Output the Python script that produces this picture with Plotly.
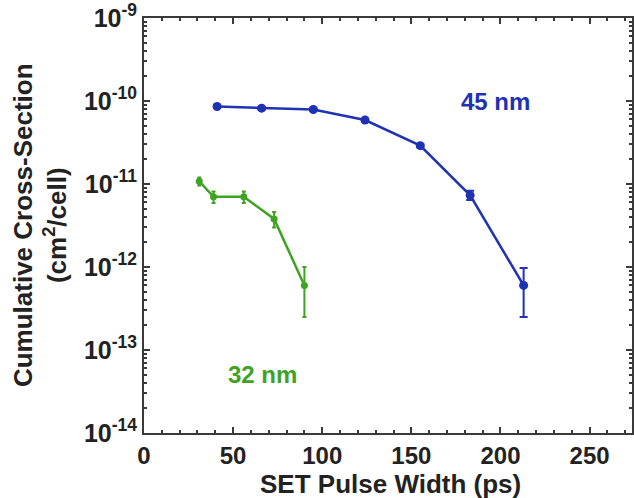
import plotly.graph_objects as go

# 45 nm series
x45 = [41, 66, 95, 124, 155, 183, 213]
y45 = [8.6e-11, 8.2e-11, 7.9e-11, 5.9e-11, 2.9e-11, 7.3e-12, 6.0e-13]
e45_plus = [3e-12, 3e-12, 3e-12, 2e-12, 1.2e-12, 1.0e-12, 3.7e-13]
e45_minus = [3e-12, 3e-12, 3e-12, 2e-12, 1.2e-12, 0.9e-12, 3.5e-13]

# 32 nm series
x32 = [31, 39, 56, 73, 90]
y32 = [1.08e-11, 7.0e-12, 7.0e-12, 3.8e-12, 6.0e-13]
e32_plus = [1.2e-12, 1.1e-12, 1.1e-12, 0.8e-12, 4.0e-13]
e32_minus = [1.2e-12, 1.1e-12, 1.1e-12, 0.8e-12, 3.5e-13]

ytick_vals = [1e-14, 1e-13, 1e-12, 1e-11, 1e-10, 1e-9]
ytick_text = ["10<sup>-14</sup>", "10<sup>-13</sup>", "10<sup>-12</sup>",
              "10<sup>-11</sup>", "10<sup>-10</sup>", "10<sup>-9</sup>"]
xtick_vals = [0, 50, 100, 150, 200, 250]

BLUE = "#1f32b4"
GREEN = "#3ea322"
FONT = "Liberation Sans, Arial, sans-serif"
TXT = "#222222"
AX = "#3a3a3a"

fig = go.Figure()
fig.add_trace(go.Scatter(
    x=x45, y=y45, mode="lines+markers",
    line=dict(color=BLUE, width=2.5),
    marker=dict(color=BLUE, size=9),
    error_y=dict(type="data", array=e45_plus, arrayminus=e45_minus,
                 color=BLUE, thickness=2, width=4),
    showlegend=False))
fig.add_trace(go.Scatter(
    x=x32, y=y32, mode="lines+markers",
    line=dict(color=GREEN, width=2.5),
    marker=dict(color=GREEN, size=7),
    error_y=dict(type="data", array=e32_plus, arrayminus=e32_minus,
                 color=GREEN, thickness=2, width=2),
    showlegend=False))

fig.update_layout(
    width=634, height=498,
    margin=dict(l=144, r=0, t=15, b=65),
    paper_bgcolor="white", plot_bgcolor="white",
    font=dict(family=FONT, color=TXT, size=25, weight="bold"),
    xaxis=dict(range=[0, 273.8], tickvals=xtick_vals,
               ticks="inside", ticklen=6, tickwidth=1.5, tickcolor=AX,
               minor=dict(ticks="inside", dtick=10, ticklen=3, tickcolor=AX, tickwidth=1.5),
               showline=True, linecolor=AX, linewidth=2, mirror="ticks",
               showgrid=False, zeroline=False, ticklabeloverflow="allow",
               tickfont=dict(family=FONT, size=24, color=TXT, weight="bold")),
    yaxis=dict(type="log", range=[-14.0005, -8.9995], tickvals=ytick_vals, ticktext=ytick_text,
               ticks="inside", ticklen=6, tickwidth=1.5, tickcolor=AX,
               minor=dict(ticks="inside", ticklen=3, tickcolor=AX, tickwidth=1.5, dtick="D1"),
               showline=True, linecolor=AX, linewidth=2, mirror="ticks",
               showgrid=False, zeroline=False, ticklabeloverflow="allow",
               tickfont=dict(family=FONT, size=25, color=TXT, weight="bold")),
)

fig.add_annotation(text="Cumulative Cross-Section<br>(cm<sup>2</sup>/cell)",
                   xref="paper", yref="paper", x=-0.214, y=0.5,
                   xanchor="center", yanchor="middle", textangle=-90, showarrow=False,
                   font=dict(family=FONT, size=26, color=TXT, weight="bold"))
fig.add_annotation(text="SET Pulse Width (ps)",
                   xref="paper", yref="paper", x=0.506, y=-0.122,
                   xanchor="center", yanchor="middle", showarrow=False,
                   font=dict(family=FONT, size=26, color=TXT, weight="bold"))
fig.add_annotation(text="45 nm", x=197, y=-10, xref="x", yref="y",
                   showarrow=False, font=dict(family=FONT, size=24, color=BLUE, weight="bold"))
fig.add_annotation(text="32 nm", x=66.5, y=-13.29, xref="x", yref="y",
                   showarrow=False, font=dict(family=FONT, size=24, color=GREEN, weight="bold"))

fig.write_html("out.html")
